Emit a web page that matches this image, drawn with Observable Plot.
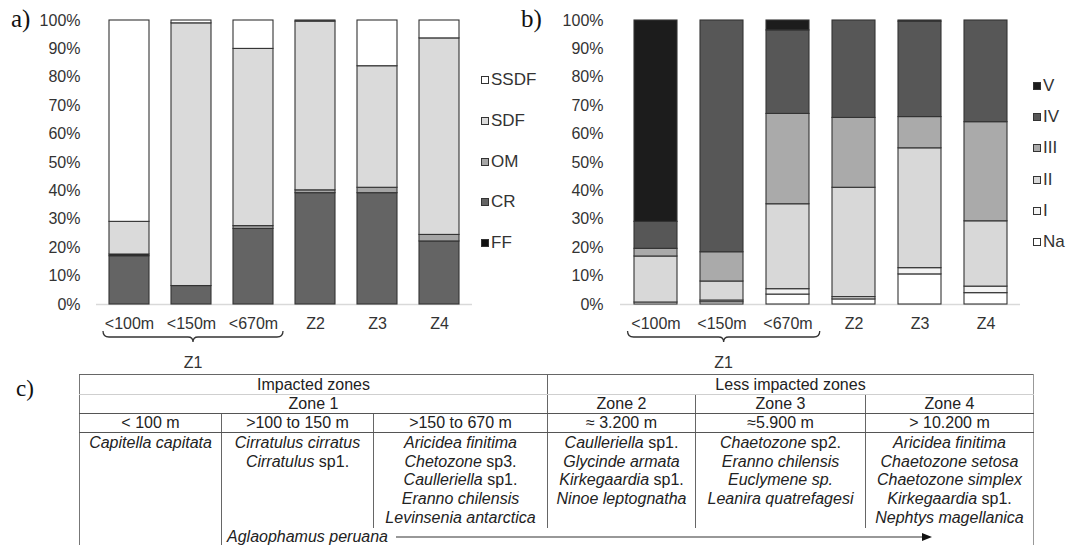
<!DOCTYPE html>
<html><head><meta charset="utf-8">
<script src="https://cdn.jsdelivr.net/npm/d3@7"></script>
<script src="https://cdn.jsdelivr.net/npm/@observablehq/plot@0.6"></script>
<style>
body{margin:0;background:#fff;}
#root{position:relative;width:1070px;height:545px;overflow:hidden;font-family:"Liberation Sans",Arial,sans-serif;}
.panel{position:absolute;top:0;}
.lab{position:absolute;font-family:"Liberation Serif","Times New Roman",serif;color:#111;line-height:1;}
.legend{position:absolute;top:0;font-size:17px;color:#333;}
.legend .row{position:absolute;left:0;display:flex;align-items:center;white-space:nowrap;transform:translateY(-50%);}
.legend .sw{width:8px;height:8px;border:1px solid #333;box-sizing:border-box;margin-right:2px;}
table{position:absolute;left:79px;top:374px;border-collapse:collapse;table-layout:fixed;width:954px;font-size:16px;color:#222;}
td{text-align:center;padding:0;white-space:nowrap;overflow:visible;}
tr.r1 td{height:19px;line-height:18px;border-top:1.5px solid #666;border-bottom:1px solid #cfcfcf;}
tr.r2 td{height:18px;line-height:18px;border-bottom:1.5px solid #555;}
tr.r3 td{height:18px;line-height:18px;border-bottom:1.5px solid #555;}
tr.sp td{height:94px;vertical-align:top;line-height:18.7px;padding-top:1px;}
tr.last td{height:22px;vertical-align:top;line-height:18px;}
td.bl{border-left:1.2px solid #666;}
td.edgeL{border-left:1.2px solid #777;}
td.edgeR{border-right:1.2px solid #999;}
i{font-style:italic;}
</style>
</head><body><div id="root"></div>
<script>
// ---------- data: panel a (feeding guilds, % per station) ----------
const categories = ["<100m", "<150m", "<670m", "Z2", "Z3", "Z4"];
const feedingGroups = ["FF", "CR", "OM", "SDF", "SSDF"]; // legend order (bottom to top)
const feedingStackOrder = ["CR", "FF", "OM", "SDF", "SSDF"]; // drawing order, bottom to top
const ffValues   = [0.6, 0, 0, 0, 0, 0];
const crValues   = [17.0, 6.5, 26.6, 39.2, 39.2, 22.2];
const omValues   = [0, 0, 1.0, 1.0, 1.9, 2.3];
const sdfValues  = [11.5, 92.5, 62.4, 59.4, 42.8, 69.2];
const ssdfValues = [70.9, 1.0, 10.0, 0.4, 16.1, 6.3];

// ---------- data: panel b (ecological groups, % per station) ----------
const ecoGroups = ["Na", "I", "II", "III", "IV", "V"]; // stack order, bottom to top
const naValues  = [0.7, 0.8, 3.5, 1.8, 10.6, 4.0];
const iValues   = [0, 0.6, 1.9, 0.8, 2.2, 2.3];
const iiValues  = [16.2, 6.7, 29.9, 38.5, 42.2, 23.0];
const iiiValues = [2.7, 10.3, 31.8, 24.6, 11.0, 34.9];
const ivValues  = [9.5, 81.6, 29.4, 34.3, 33.6, 35.8];
const vValues   = [70.9, 0, 3.5, 0, 0.4, 0];

const yTicks = [0, 10, 20, 30, 40, 50, 60, 70, 80, 90, 100];
const bracedGroup = "Z1";
const bracedCategories = ["<100m", "<150m", "<670m"];

// ---------- data: panel c (table) ----------
const impactHeaders = ["Impacted zones", "Less impacted zones"];
const zoneHeaders = ["Zone 1", "Zone 2", "Zone 3", "Zone 4"];
const depthHeaders = ["< 100 m", ">100 to 150 m", ">150 to 670 m", "≈ 3.200 m", "≈5.900 m", "> 10.200 m"];
// each species: [italic part, roman suffix]
const speciesCol1 = [["Capitella capitata", ""]];
const speciesCol2 = [["Cirratulus cirratus", ""], ["Cirratulus", " sp1."]];
const speciesCol3 = [["Aricidea finitima", ""], ["Chetozone", " sp3."], ["Caulleriella", " sp1."], ["Eranno chilensis", ""], ["Levinsenia antarctica", ""]];
const speciesCol4 = [["Caulleriella", " sp1."], ["Glycinde armata", ""], ["Kirkegaardia", " sp1."], ["Ninoe leptognatha", ""]];
const speciesCol5 = [["Chaetozone", " sp2."], ["Eranno chilensis", ""], ["Euclymene sp.", ""], ["Leanira quatrefagesi", ""]];
const speciesCol6 = [["Aricidea finitima", ""], ["Chaetozone setosa", ""], ["Chaetozone simplex", ""], ["Kirkegaardia", " sp1."], ["Nephtys magellanica", ""]];
const widespreadSpecies = "Aglaophamus peruana";

// ---------- build ----------
const root = document.getElementById("root");
const feedingColors = {FF: "#111111", CR: "#646464", OM: "#a6a6a6", SDF: "#dadada", SSDF: "#ffffff"};
const ecoColors = {Na: "#ffffff", I: "#f3f3f3", II: "#d8d8d8", III: "#aaaaaa", IV: "#575757", V: "#1c1c1c"};

function longRows(groups, seriesByGroup) {
  const rows = [];
  groups.forEach(g => categories.forEach((c, ci) => {
    const v = seriesByGroup[g][ci];
    if (v > 0) rows.push({cat: c, group: g, value: v});
  }));
  return rows;
}

function makePanel(opts) {
  const plot = Plot.plot({
    width: opts.width, height: 370,
    marginLeft: opts.marginLeft, marginRight: opts.marginRight, marginTop: 20, marginBottom: 66,
    style: {fontFamily: '"Liberation Sans", Arial, sans-serif', fontSize: "16px", color: "#333", background: "transparent", overflow: "visible"},
    x: {domain: categories, paddingInner: opts.pad, paddingOuter: opts.pad / 2, label: null, tickSize: 0, tickPadding: 13},
    y: {domain: [0, 100], ticks: yTicks, tickFormat: d => d + "%", label: null, tickSize: 0, tickPadding: opts.tickPad},
    color: {domain: Object.keys(opts.colors), range: Object.values(opts.colors)},
    marks: [
      Plot.ruleY([0], {stroke: "#d9d9d9", strokeWidth: 1.5}),
      Plot.barY(opts.rows, {x: "cat", y: "value", fill: "group", stroke: "#333", strokeWidth: 1.1})
    ]
  });
  plot.classList.add("panel");
  plot.style.left = opts.left + "px";
  root.appendChild(plot);
  // brace under Z1 categories, from the x scale
  const xs = plot.scale("x");
  const bw = xs.bandwidth;
  const x0 = xs.apply(bracedCategories[0]) - bw * 0.15;
  const x1 = xs.apply(bracedCategories[bracedCategories.length - 1]) + bw * 1.25;
  const cx = (x0 + x1) / 2;
  const yb = 337;
  const svg = d3.select(plot);
  svg.append("path")
    .attr("d", `M${x0},${yb - 6} Q${x0},${yb} ${x0 + 6},${yb} L${cx - 5},${yb} Q${cx},${yb} ${cx},${yb + 5} Q${cx},${yb} ${cx + 5},${yb} L${x1 - 6},${yb} Q${x1},${yb} ${x1},${yb - 6}`)
    .attr("fill", "none").attr("stroke", "#333").attr("stroke-width", 1.3);
  svg.append("text").attr("x", cx).attr("y", 362).attr("text-anchor", "middle").attr("dy", "0.35em")
    .attr("fill", "#333").text(bracedGroup);
  return plot;
}

makePanel({
  left: 0, width: 540, marginLeft: 96, marginRight: 68, pad: 0.36, tickPad: 16,
  colors: feedingColors,
  rows: longRows(feedingStackOrder, {FF: ffValues, CR: crValues, OM: omValues, SDF: sdfValues, SSDF: ssdfValues})
});
makePanel({
  left: 540, width: 530, marginLeft: 80, marginRight: 50, pad: 0.355, tickPad: 17,
  colors: ecoColors,
  rows: longRows(ecoGroups, {Na: naValues, I: iValues, II: iiValues, III: iiiValues, IV: ivValues, V: vValues})
});

function legend(left, top0, step, groups, colors) {
  const div = document.createElement("div");
  div.className = "legend";
  div.style.left = left + "px";
  groups.slice().reverse().forEach((g, k) => {
    const row = document.createElement("div");
    row.className = "row";
    row.style.top = (top0 + k * step) + "px";
    const sw = document.createElement("div");
    sw.className = "sw";
    sw.style.background = colors[g];
    row.appendChild(sw);
    row.appendChild(document.createTextNode(g));
    div.appendChild(row);
  });
  root.appendChild(div);
}
legend(481, 80, 40.8, feedingGroups, feedingColors);
legend(1033, 86, 31.2, ecoGroups, ecoColors);

function label(text, left, top, size) {
  const d = document.createElement("div");
  d.className = "lab";
  d.style.left = left + "px"; d.style.top = top + "px"; d.style.fontSize = size + "px";
  d.textContent = text;
  root.appendChild(d);
}
label("a)", 11, 6, 25);
label("b)", 521, 6, 25);
label("c)", 16, 377, 23);

// ---------- table ----------
function speciesHTML(list) {
  return list.map(([it, rom]) => `<i>${it}</i>${rom}`).join("<br>");
}
const colW = [142, 152, 174, 148, 170, 168];
const speciesCols = [speciesCol1, speciesCol2, speciesCol3, speciesCol4, speciesCol5, speciesCol6];
let html = "<colgroup>" + colW.map(w => `<col style="width:${w}px">`).join("") + "</colgroup>";
html += `<tr class="r1"><td colspan="3" class="edgeL">${impactHeaders[0]}</td><td colspan="3" class="bl edgeR">${impactHeaders[1]}</td></tr>`;
html += `<tr class="r2"><td colspan="3" class="edgeL">${zoneHeaders[0]}</td><td class="bl">${zoneHeaders[1]}</td><td class="bl">${zoneHeaders[2]}</td><td class="bl edgeR">${zoneHeaders[3]}</td></tr>`;
html += `<tr class="r3">` + depthHeaders.map((d, i) => `<td class="${i === 0 ? "edgeL" : "bl"}${i === 5 ? " edgeR" : ""}">${d}</td>`).join("") + `</tr>`;
html += `<tr class="sp">` + speciesCols.map((c, i) => `<td class="${i === 0 ? "edgeL" : "bl"}${i === 5 ? " edgeR" : ""}">${speciesHTML(c)}</td>`).join("") + `</tr>`;
html += `<tr class="last"><td class="edgeL"></td><td colspan="5" class="bl edgeR" style="text-align:left;padding-left:5px;">` +
  `<span style="display:inline-flex;align-items:center;"><i>${widespreadSpecies}</i>` +
  `<svg width="540" height="10" style="margin-left:8px;"><line x1="0" y1="5" x2="528" y2="5" stroke="#333" stroke-width="1.2"/><polygon points="526,1 536,5 526,9" fill="#111"/></svg></span></td></tr>`;
const table = document.createElement("table");
table.innerHTML = html;
root.appendChild(table);
</script>
</body></html>
